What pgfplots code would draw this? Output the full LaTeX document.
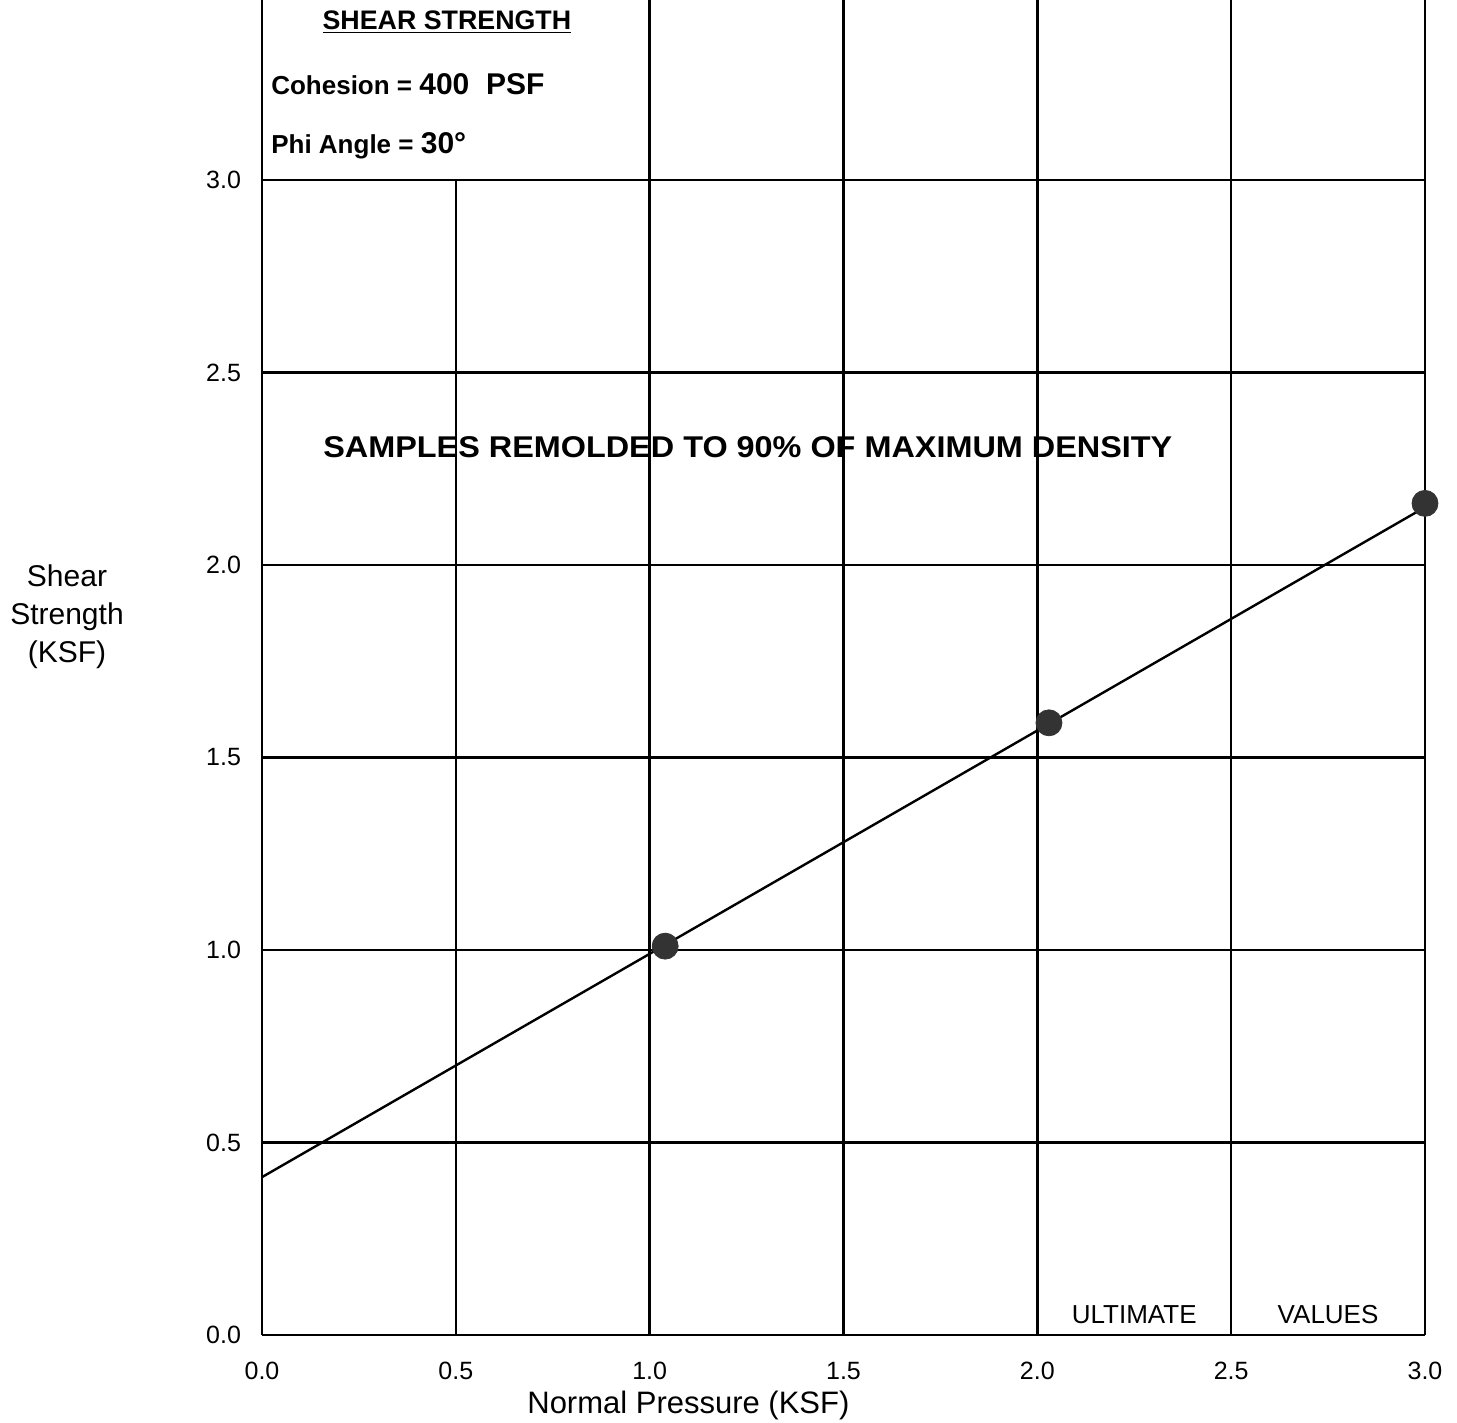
\documentclass[border=0pt]{standalone}
\usepackage{fontspec}
\setmainfont{Liberation Sans}
\usepackage{graphicx}
\usepackage{pgfplots}
\pgfplotsset{compat=1.18}
\begin{document}
\begin{tikzpicture}
\begin{axis}[
  scale only axis, width=581.5pt, height=667.5pt,
  xmin=0, xmax=3, ymin=0, ymax=3.4675,
  axis x line*=bottom, axis y line*=box,
  axis line style={-, line width=1.4pt},
  xtick={0,0.5,1,1.5,2,2.5,3}, ytick={0,0.5,1,1.5,2,2.5,3},
  grid=major, major grid style={black, line width=1.2pt},
  major tick length=0pt,
  xticklabel style={font=\fontsize{12.5}{15}\selectfont, yshift=-10pt},
  yticklabel style={font=\fontsize{12.5}{15}\selectfont, xshift=-7pt},
  /pgf/number format/fixed, /pgf/number format/fixed zerofill,
  /pgf/number format/precision=1, /pgf/number format/assume math mode=true,
  clip=false,
]
\coordinate (A) at (rel axis cs:0,0);
\coordinate (B) at (rel axis cs:1,1);
\fill[white] (axis cs:0,3) rectangle (axis cs:1,3.4675);
\draw[line width=1.2pt] (axis cs:1,3.4675) -- (axis cs:1,3) -- (axis cs:0,3);
\draw[line width=1.4pt] (axis cs:0,3) -- (axis cs:0,3.4675);
\addplot[black, line width=1.2pt] coordinates {(0,0.41) (3.0,2.15)};
\addplot[only marks, mark=*, mark size=6.5pt, mark options={fill=black!80, draw=black!80}] coordinates {(1.04,1.01) (2.03,1.59) (3.0,2.16)};
\node[font=\bfseries\fontsize{13.4}{15}\selectfont] at (axis cs:0.477,3.41) {\underline{SHEAR STRENGTH}};
\node[anchor=west, inner sep=0pt, font=\bfseries\fontsize{13}{15}\selectfont] at (axis cs:0.023,3.25) {Cohesion = {\fontsize{15}{17}\selectfont 400\ \ PSF}};
\node[anchor=west, inner sep=0pt, font=\bfseries\fontsize{13}{15}\selectfont] at (axis cs:0.023,3.09) {Phi Angle = {\fontsize{15}{17}\selectfont 30°}};
\node[anchor=west, inner sep=0pt, font=\bfseries\fontsize{15}{17}\selectfont] at (axis cs:0.157,2.306) {\scalebox{1.08}[1]{SAMPLES REMOLDED TO 90\% OF MAXIMUM DENSITY}};
\node[font=\fontsize{13}{15}\selectfont] at (axis cs:2.25,0.052) {ULTIMATE};
\node[font=\fontsize{13}{15}\selectfont] at (axis cs:2.75,0.052) {VALUES};
\node[align=center, font=\fontsize{15}{19}\selectfont] at ([xshift=-97.5pt]axis cs:0,1.865) {Shear\\Strength\\(KSF)};
\node[font=\fontsize{15.5}{18}\selectfont] at ([yshift=-35pt]axis cs:1.1,0) {Normal Pressure (KSF)};
\end{axis}
\pgfresetboundingbox
\path[use as bounding box] ([shift={(-131pt,-44pt)}]A) rectangle ([shift={(16pt,0pt)}]B);
\end{tikzpicture}
\end{document}
